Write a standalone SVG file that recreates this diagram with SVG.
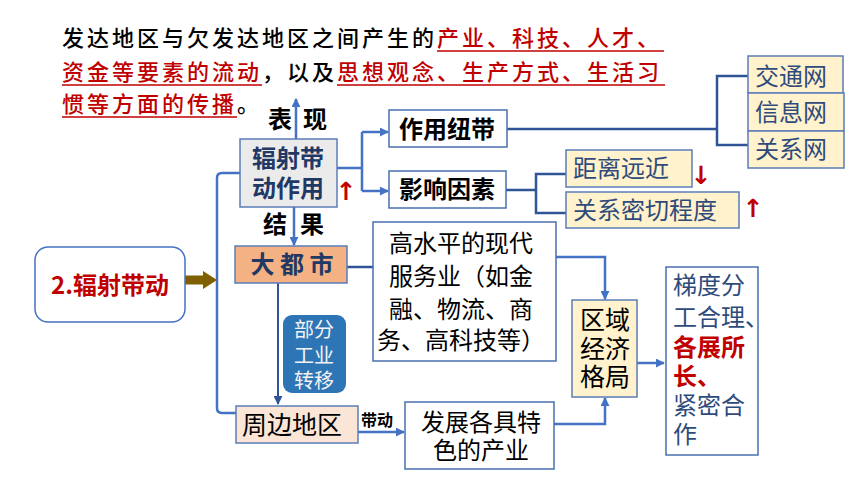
<svg xmlns="http://www.w3.org/2000/svg" width="860" height="484" viewBox="0 0 860 484">
<defs>
<style>
text{font-family:"Noto Sans CJK SC","Noto Sans",sans-serif;}
.para{font-size:22px;letter-spacing:3px;fill:#000;font-weight:500;}
.red{fill:#c00000;}
.ul{stroke:#c00000;stroke-width:1.5;}
.box{fill:#fff;stroke:#4a6fb0;stroke-width:1.5;}
.yel{fill:#fff2cc;stroke:#5b7db8;stroke-width:1.5;}
.bold{font-weight:bold;}
.t24{font-size:24px;}
.mid{text-anchor:middle;}
.navy{fill:#1f3864;}
.slate{fill:#2f4b7c;}
.con{fill:none;stroke:#4472c4;stroke-width:2.5;}
.dk{fill:none;stroke:#2f5597;stroke-width:2.5;}
.arr{font-family:"DejaVu Sans",sans-serif;font-size:25px;fill:#c00000;font-weight:bold;text-anchor:middle;}
</style>
<marker id="ah" viewBox="0 0 10 10" refX="9" refY="5" markerWidth="9" markerHeight="9" markerUnits="userSpaceOnUse" orient="auto">
<path d="M0,0 L10,5 L0,10 z" fill="#4472c4"/>
</marker>
<marker id="ahd" viewBox="0 0 10 10" refX="9" refY="5" markerWidth="9" markerHeight="9" markerUnits="userSpaceOnUse" orient="auto">
<path d="M0,0 L10,5 L0,10 z" fill="#2f5597"/>
</marker>
</defs>
<rect width="860" height="484" fill="#fff"/>

<g id="intro">
<text class="para" x="62" y="46">发达地区与欠发达地区之间产生的<tspan class="red">产业、科技、人才、</tspan></text>
<line class="ul" x1="437" y1="51" x2="664" y2="51"/>
<text class="para" x="62" y="80"><tspan class="red">资金等要素的流动</tspan>，以及<tspan class="red">思想观念、生产方式、生活习</tspan></text>
<line class="ul" x1="62" y1="85" x2="262" y2="85"/>
<line class="ul" x1="337" y1="85" x2="665" y2="85"/>
<text class="para" x="62" y="112"><tspan class="red">惯等方面的传播</tspan>。</text>
<line class="ul" x1="62" y1="117" x2="237" y2="117"/>
</g>

<g id="connectors">
<path class="con" d="M296,140 V99" marker-end="url(#ah)"/>
<path class="con" d="M294,207 V245" marker-end="url(#ah)"/>
<path class="con" d="M337,168 H362 M362,132 V191"/>
<path class="con" d="M362,132 H388" marker-end="url(#ah)"/>
<path class="con" d="M362,191 H388" marker-end="url(#ah)"/>
<path class="dk" d="M507,129 H717 M748,76 H717 V145 H748"/>
<path class="dk" d="M506,190 H536 M566,174 H536 V213 H566"/>
<path class="con" d="M240,173 H222 Q217,173 217,178 V408 Q217,413 222,413 H236"/>
<path d="M185,280 H204" stroke="#7f6000" stroke-width="9" fill="none"/>
<path d="M203,271 L217,280 L203,289 z" fill="#7f6000"/>
<path class="dk" d="M347,267 H373"/>
<path d="M278,283 V404" stroke="#2f5597" stroke-width="2" fill="none" marker-end="url(#ahd)"/>
<path class="con" d="M358,432 H404" marker-end="url(#ah)"/>
<path class="con" d="M556,257 H605 V299" marker-end="url(#ah)"/>
<path class="con" d="M554,424 H605 V398" marker-end="url(#ah)"/>
<path class="con" d="M637,363 H664" marker-end="url(#ah)"/>
</g>

<g id="label-biaoxian">
<text class="bold t24" x="268" y="128" fill="#000">表</text>
<text class="bold t24" x="303" y="128" fill="#000">现</text>
</g>
<g id="label-jieguo">
<text class="bold t24" x="263" y="233" fill="#000">结</text>
<text class="bold t24" x="300" y="233" fill="#000">果</text>
</g>

<g id="node-start">
<rect x="35" y="247" width="150" height="75" rx="13" fill="#fff" stroke="#4472c4" stroke-width="1.5"/>
<text class="bold mid red" x="110" y="294" font-size="24">2.辐射带动</text>
</g>

<g id="node-fushe">
<rect x="240" y="139" width="97" height="68" fill="#ebebeb" stroke="#5b7db8" stroke-width="1.5"/>
<text class="bold t24 mid navy" x="288" y="167">辐射带</text>
<text class="bold t24 mid navy" x="288" y="197">动作用</text>
</g>
<text id="up1" class="arr" x="346" y="200">↑</text>

<g id="node-niudai">
<rect class="box" x="389" y="110" width="118" height="37"/>
<text class="bold t24 mid" x="447" y="138" fill="#000">作用纽带</text>
</g>
<g id="node-yinsu">
<rect class="box" x="389" y="171" width="117" height="37"/>
<text class="bold t24 mid" x="447" y="198" fill="#000">影响因素</text>
</g>

<g id="node-jiaotong">
<rect class="yel" x="748" y="56" width="95" height="37"/>
<text class="t24 slate" x="755" y="85">交通网</text>
</g>
<g id="node-xinxi">
<rect class="yel" x="748" y="93" width="96" height="38"/>
<text class="t24 slate" x="755" y="121">信息网</text>
</g>
<g id="node-guanxi">
<rect class="yel" x="748" y="131" width="96" height="37"/>
<text class="t24 slate" x="755" y="158">关系网</text>
</g>

<g id="node-juli">
<rect class="yel" x="566" y="150" width="126" height="37"/>
<text class="t24 slate" x="573" y="177">距离远近</text>
</g>
<text id="down1" class="arr" x="701" y="184">↓</text>
<g id="node-miqie">
<rect class="yel" x="566" y="192" width="173" height="36"/>
<text class="t24 slate" x="573" y="219">关系密切程度</text>
</g>
<text id="up2" class="arr" x="753" y="217">↑</text>

<g id="node-dadushi">
<rect x="235" y="246" width="112" height="37" fill="#f4b183" stroke="#5b7db8" stroke-width="1.5"/>
<text class="bold t24 mid navy" x="292" y="273">大 都 市</text>
</g>

<g id="node-fuwu">
<rect class="box" x="373" y="222" width="183" height="139"/>
<text class="t24" x="389" y="252" fill="#000">高水平的现代</text>
<text class="t24" x="389" y="285" fill="#000">服务业（如金</text>
<text class="t24" x="389" y="318" fill="#000">融、物流、商</text>
<text class="t24" x="377" y="349" fill="#000">务、高科技等）</text>
</g>

<g id="node-zhuanyi">
<rect x="283" y="315" width="63" height="78" rx="9" fill="#2e75b6"/>
<text class="mid" x="314" y="337" font-size="20" fill="#f2f2f2">部分</text>
<text class="mid" x="314" y="363" font-size="20" fill="#f2f2f2">工业</text>
<text class="mid" x="314" y="388" font-size="20" fill="#f2f2f2">转移</text>
</g>

<g id="node-zhoubian">
<rect x="236" y="406" width="122" height="37" fill="#fbe5d6" stroke="#5b7db8" stroke-width="1.5"/>
<text class="mid" x="292" y="434" font-size="25" fill="#000">周边地区</text>
</g>
<text id="label-daidong" class="bold" x="361" y="426" font-size="16" fill="#000">带动</text>

<g id="node-tese">
<rect class="box" x="405" y="402" width="149" height="67"/>
<text class="t24 mid" x="481" y="431" fill="#000">发展各具特</text>
<text class="t24 mid" x="481" y="459" fill="#000">色的产业</text>
</g>

<g id="node-geju">
<rect class="yel" x="572" y="300" width="65" height="97"/>
<text class="mid" x="605" y="329" font-size="25" fill="#000">区域</text>
<text class="mid" x="605" y="358" font-size="25" fill="#000">经济</text>
<text class="mid" x="605" y="386" font-size="25" fill="#000">格局</text>
</g>

<g id="node-fengong">
<rect class="box" x="666" y="267" width="92" height="188"/>
<text class="t24 slate" x="673" y="294">梯度分</text>
<text class="t24 slate" x="673" y="326">工合理、</text>
<text class="t24 bold red" x="673" y="356">各展所</text>
<text class="t24 bold red" x="673" y="385">长、</text>
<text class="t24 slate" x="673" y="414">紧密合</text>
<text class="t24 slate" x="673" y="443">作</text>
</g>
</svg>
